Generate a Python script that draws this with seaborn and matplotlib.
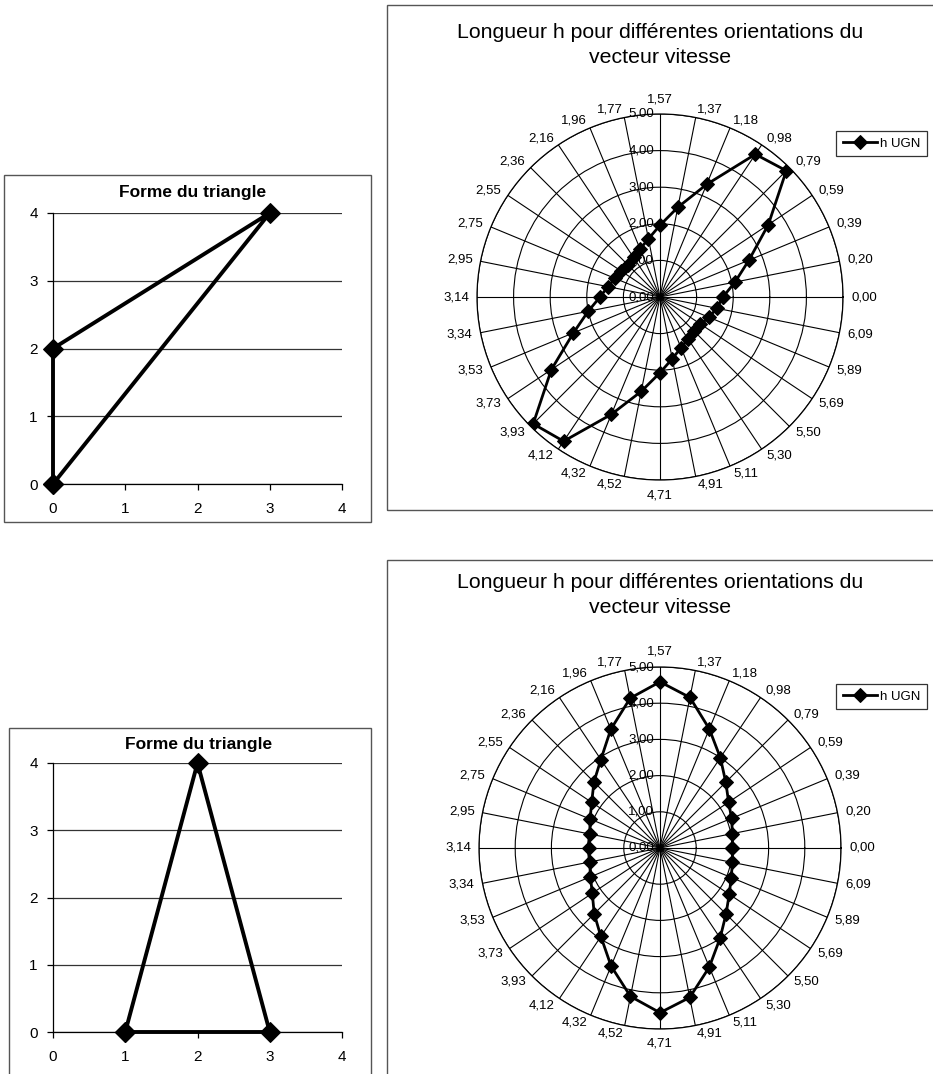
import numpy as np
import matplotlib
matplotlib.use("Agg")
import matplotlib.pyplot as plt
import matplotlib.transforms as mtransforms
from matplotlib.patches import Rectangle
import pandas as pd
import seaborn as sns

# ---------------- data ----------------
tri1_x = [0, 0, 3, 0]
tri1_y = [0, 2, 4, 0]
tri2_x = [1, 2, 3, 1]
tri2_y = [0, 4, 0, 0]
tri_ticks = [0, 1, 2, 3, 4]

angle_labels = ["0,00", "0,20", "0,39", "0,59", "0,79", "0,98", "1,18", "1,37",
                "1,57", "1,77", "1,96", "2,16", "2,36", "2,55", "2,75", "2,95",
                "3,14", "3,34", "3,53", "3,73", "3,93", "4,12", "4,32", "4,52",
                "4,71", "4,91", "5,11", "5,30", "5,50", "5,69", "5,89", "6,09"]

h_top = [1.72, 2.09, 2.63, 3.56, 4.88, 4.69, 3.33, 2.50,
         1.96, 1.62, 1.42, 1.30, 1.25, 1.27, 1.33, 1.45,
         1.64, 2.00, 2.56, 3.57, 4.90, 4.74, 3.47, 2.63,
         2.07, 1.72, 1.50, 1.38, 1.33, 1.33, 1.45, 1.58]

h_bottom = [2.00, 2.04, 2.14, 2.28, 2.57, 3.00, 3.56, 4.24,
            4.59, 4.22, 3.55, 2.94, 2.58, 2.27, 2.09, 1.98,
            1.96, 1.98, 2.08, 2.25, 2.57, 2.94, 3.53, 4.18,
            4.55, 4.21, 3.56, 2.99, 2.58, 2.30, 2.13, 2.04]

r_ticks = [0, 1, 2, 3, 4, 5]
r_labels = ["0,00", "1,00", "2,00", "3,00", "4,00", "5,00"]

series_name = "h UGN"
tri_title = "Forme du triangle"
polar_title = "Longueur h pour différentes orientations du\nvecteur vitesse"

# ---------------- figure ----------------
plt.rcParams['font.family'] = ['Liberation Sans', 'DejaVu Sans']
W, H = 933, 1074
fig = plt.figure(figsize=(W / 100, H / 100), dpi=100)
fig.patch.set_facecolor("white")


def fx(px):
    return px / W


def fy(py):
    return 1 - py / H


def frame(x0, y0, x1, y1):
    fig.add_artist(Rectangle((fx(x0), fy(y1)), fx(x1) - fx(x0), fy(y0) - fy(y1),
                             transform=fig.transFigure, fill=False,
                             edgecolor="#555555", lw=1.0))


def tri_chart(rect, xs, ys, title_xy):
    ax = fig.add_axes(rect)
    df = pd.DataFrame({"x": xs, "y": ys})
    sns.lineplot(data=df, x="x", y="y", ax=ax, sort=False, estimator=None,
                 color="black", lw=2.8, marker="D", markersize=10,
                 markeredgecolor="black", clip_on=False, zorder=5)
    ax.set_xlim(0, 4)
    ax.set_ylim(0, 4)
    ax.set_xticks(tri_ticks)
    ax.set_yticks(tri_ticks)
    ax.set_xlabel("")
    ax.set_ylabel("")
    ax.yaxis.grid(True, color="#333333", lw=0.9)
    ax.xaxis.grid(False)
    ax.set_axisbelow(True)
    for s in ["top", "right"]:
        ax.spines[s].set_visible(False)
    for s in ["left", "bottom"]:
        ax.spines[s].set_color("black")
        ax.spines[s].set_linewidth(0.9)
    ax.tick_params(direction="out", length=4, width=0.9, labelsize=11,
                   colors="black")
    ax.tick_params(axis="x", pad=9)
    ax.tick_params(axis="y", pad=7)
    fig.text(fx(title_xy[0]), fy(title_xy[1]), tri_title, ha="center",
             va="center", fontsize=12.5, fontweight="bold")
    return ax


def polar_chart(cx, cy, R, values, title_y, legend_y):
    ax = fig.add_axes([fx(cx - R), fy(cy + R), 2 * R / W, 2 * R / H],
                      projection="polar")
    n = len(values)
    theta = np.arange(n) * 2 * np.pi / n
    df = pd.DataFrame({"theta": np.append(theta, 2 * np.pi),
                       "h": np.append(values, values[0])})
    sns.lineplot(data=df, x="theta", y="h", ax=ax, sort=False, estimator=None,
                 color="black", lw=2.0, marker="D", markersize=7,
                 markeredgecolor="black", label=series_name, zorder=5,
                 legend=False)
    ax.set_xlabel("")
    ax.set_ylabel("")
    ax.set_theta_zero_location("E")
    ax.set_ylim(0, 5)
    ax.set_yticks(r_ticks[1:])
    ax.set_yticklabels([])
    ax.set_xticks(theta)
    ax.set_xticklabels([])
    ax.tick_params(axis="x", size=0)
    ax.grid(True, color="black", lw=0.8, ls="-")
    ax.spines["polar"].set_color("black")
    ax.spines["polar"].set_linewidth(0.9)
    # angle labels, anchored Excel-like just outside the outer ring
    for t, lab in zip(theta, angle_labels):
        c, s = np.cos(t), np.sin(t)
        if abs(c) < 0.05:
            ha, va, g = "center", ("bottom" if s > 0 else "top"), 9
        else:
            ha, va, g = ("left" if c > 0 else "right"), "center", 8
        tr = mtransforms.offset_copy(ax.transData, fig=fig, x=g * c, y=g * s,
                                     units="dots")
        ax.text(t, 5, lab, transform=tr, ha=ha, va=va, fontsize=9.5,
                clip_on=False)
    off = mtransforms.offset_copy(ax.transData, fig=fig, x=-6, y=0, units="dots")
    for r, lab in zip(r_ticks, r_labels):
        ax.text(np.pi / 2, r, lab, transform=off, ha="right", va="center",
                fontsize=9.5, zorder=4)
    fig.text(fx(cx), fy(title_y), polar_title, ha="center", va="center",
             fontsize=15.3, linespacing=1.45)
    line = ax.get_lines()[0]
    leg = ax.legend([line], [series_name], loc="upper left",
                    bbox_to_anchor=(fx(836), fy(legend_y)),
                    bbox_transform=fig.transFigure, frameon=True,
                    fancybox=False, edgecolor="black", fontsize=9.5,
                    handlelength=2.6, handletextpad=0.2, borderpad=0.5,
                    borderaxespad=0)
    leg.get_frame().set_linewidth(0.9)
    return ax


# frames
frame(4, 175, 371, 522)
frame(9, 728, 371, 1080)
frame(387, 5, 940, 510)
frame(387, 560, 940, 1080)

# left triangle charts
tri_chart([fx(53), fy(484), fx(342) - fx(53), fy(213) - fy(484)],
          tri1_x, tri1_y, (193, 192))
tri_chart([fx(53), fy(1032), fx(342) - fx(53), fy(763) - fy(1032)],
          tri2_x, tri2_y, (199, 745))

# polar charts
polar_chart(660, 297, 183, h_top, 45, 131)
polar_chart(660, 848, 181, h_bottom, 595, 684)

fig.savefig("out.png", dpi=100, facecolor="white")
